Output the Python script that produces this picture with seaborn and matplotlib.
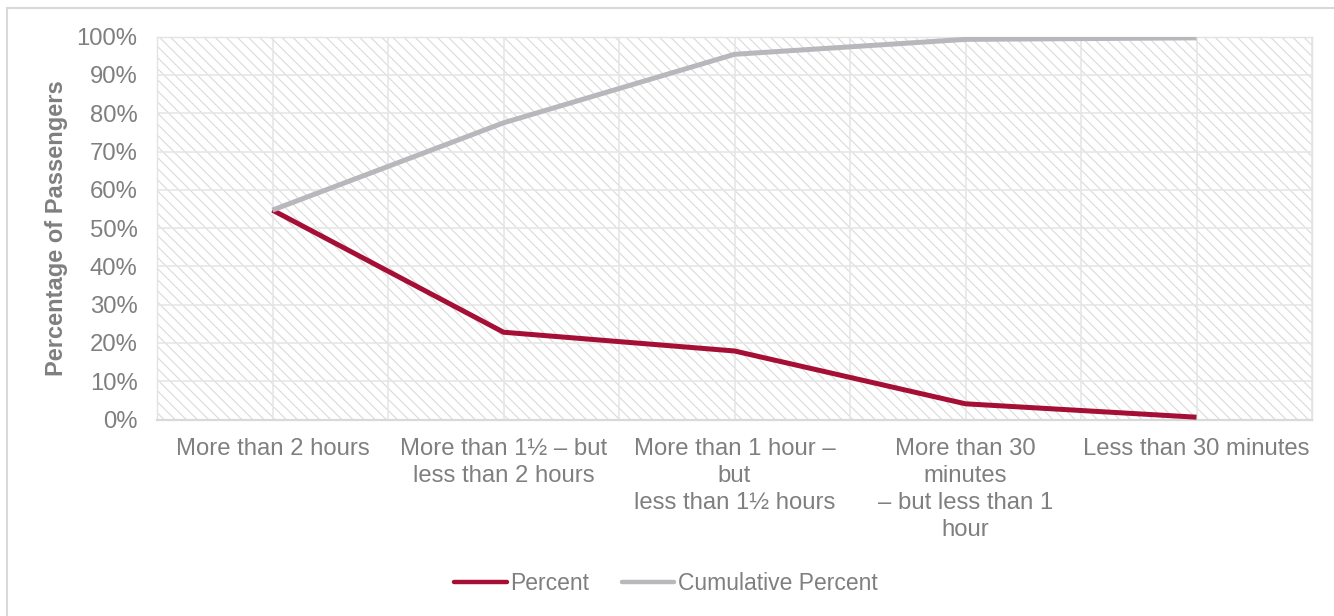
import matplotlib
matplotlib.use("Agg")
import matplotlib.pyplot as plt
from matplotlib.patches import Rectangle
from matplotlib.lines import Line2D
import numpy as np
import pandas as pd
import seaborn as sns

# Time before departure at which passengers arrived
categories = [
    "More than 2 hours",
    "More than 1\u00bd \u2013 but\nless than 2 hours",
    "More than 1 hour \u2013\nbut\nless than 1\u00bd hours",
    "More than 30\nminutes\n\u2013 but less than 1\nhour",
    "Less than 30 minutes",
]
percent = [54.7, 22.8, 17.9, 4.1, 0.6]
cumulative_percent = [54.7, 77.5, 95.4, 99.3, 99.7]
series_names = ["Percent", "Cumulative Percent"]
y_ticks = list(range(0, 101, 10))

RED = "#A50E35"
GREY_LINE = "#B8B8BC"
TEXT = "#7F7F7F"
GRID = "#E6E6E6"

sns.set_theme(style="white")
plt.rcParams["font.family"] = ["Liberation Sans", "DejaVu Sans"]
plt.rcParams["hatch.linewidth"] = 0.8

pos = np.arange(len(categories))
df = pd.DataFrame({
    "pos": np.concatenate([pos, pos]),
    "value": percent + cumulative_percent,
    "series": [series_names[0]] * len(pos) + [series_names[1]] * len(pos),
})

fig = plt.figure(figsize=(13.34, 6.16), dpi=100)
ax = fig.add_axes([157 / 1334, 1 - 419.5 / 616, 1155 / 1334, 382.8 / 616])

# hatched plot-area background
ax.add_patch(Rectangle((0, 0), 1, 1, transform=ax.transAxes, facecolor="white",
                       edgecolor="#DADADA", linewidth=0, hatch="\\" * 3, zorder=0))

sns.lineplot(data=df, x="pos", y="value", hue="series", hue_order=series_names,
             palette=[RED, GREY_LINE], linewidth=3.6, sort=False, legend=False,
             ax=ax, zorder=3)
for ln in ax.lines:
    ln.set_solid_capstyle("butt")
    ln.set_solid_joinstyle("miter")

ax.set_xlim(-0.5, len(categories) - 0.5)
ax.set_ylim(0, 100)
ax.set_xticks(pos)
ax.set_xticklabels(categories, fontsize=17.2, color=TEXT, linespacing=1.31)
ax.set_xticks(np.arange(-0.5, len(categories), 1.0), minor=True)
ax.set_yticks(y_ticks)
ax.set_yticklabels([f"{v}%" for v in y_ticks], fontsize=17.2, color=TEXT)
ax.tick_params(axis="x", which="both", length=0, pad=13)
ax.tick_params(axis="y", length=0, pad=14)
ax.grid(True, which="both", color=GRID, linewidth=1.2, zorder=1)
ax.set_axisbelow(True)

for side in ["left", "right", "top"]:
    ax.spines[side].set_color("#E3E3E3")
    ax.spines[side].set_linewidth(1.0)
ax.spines["bottom"].set_color("#D9D9D9")
ax.spines["bottom"].set_linewidth(1.6)

ax.set_xlabel("")
ax.set_ylabel("Percentage of Passengers", fontsize=17, fontweight="bold", color=TEXT)
ax.yaxis.set_label_coords(-0.077, 0.5)

handles = [Line2D([], [], color=RED, linewidth=3.2, solid_capstyle="round"),
           Line2D([], [], color=GREY_LINE, linewidth=3.2, solid_capstyle="round")]
fig.legend(handles, series_names, loc="center", bbox_to_anchor=(666 / 1334, 1 - 584 / 616),
           ncol=2, frameon=False, fontsize=16.5, labelcolor=TEXT, handlelength=2.3,
           handletextpad=0.15, columnspacing=1.4)

# chart frame
fig.patches.append(Rectangle((7 / 1334, -0.1), 1.2, 1.1 - 8 / 616, transform=fig.transFigure,
                             fill=False, edgecolor="#D9D9D9", linewidth=1.5))

fig.savefig("out.png", dpi=100, facecolor="white")
